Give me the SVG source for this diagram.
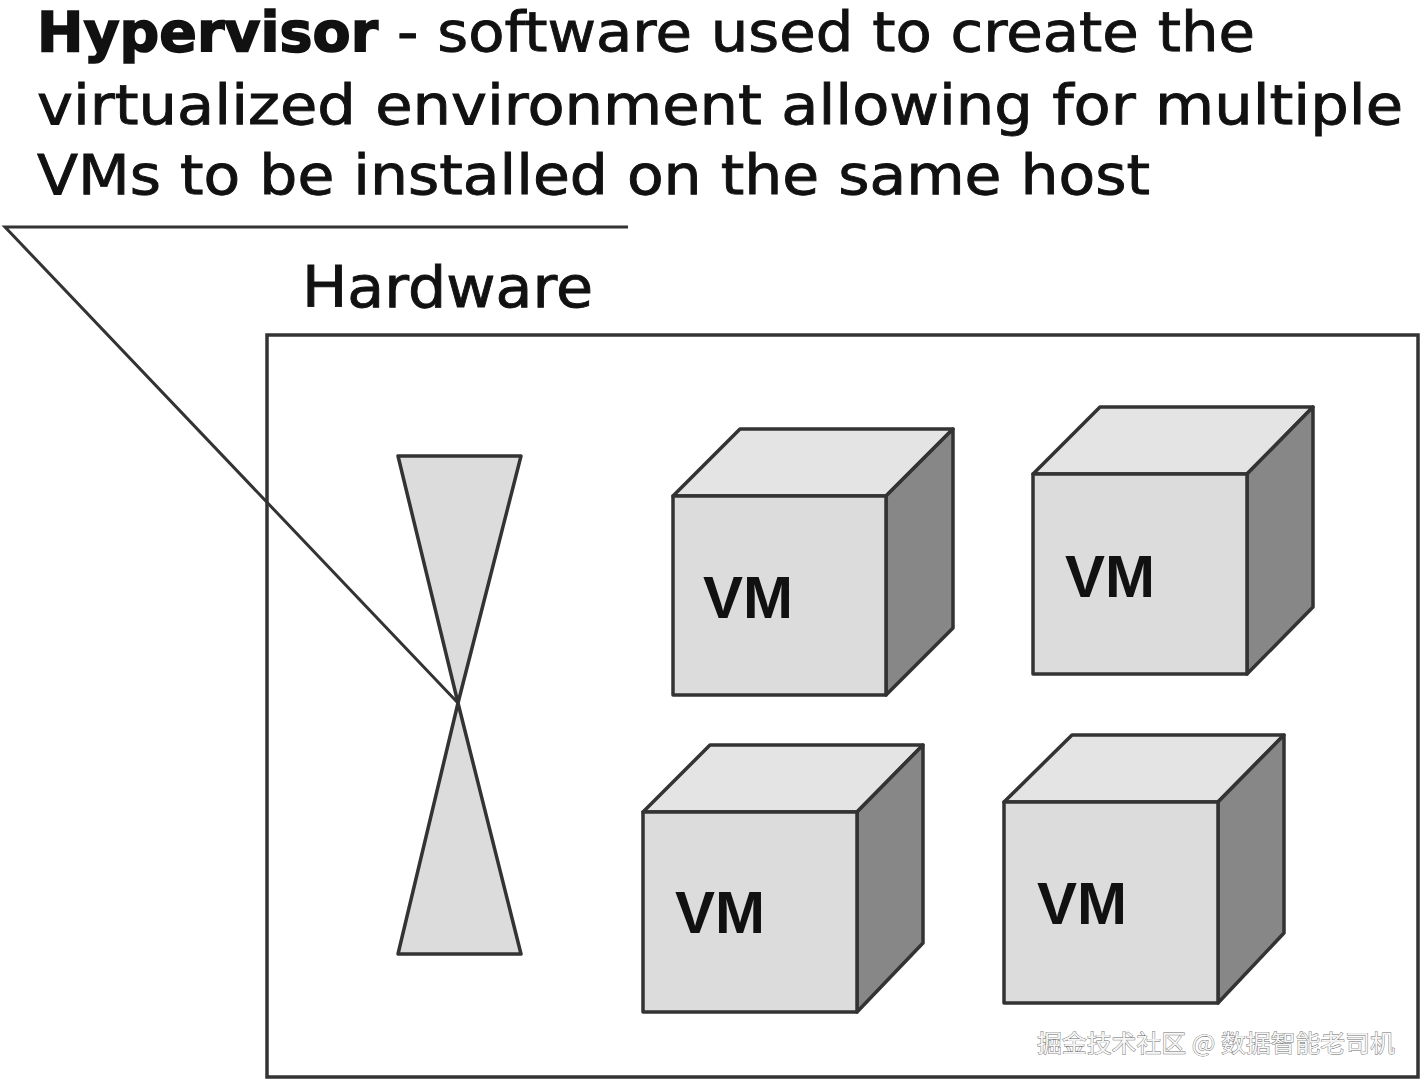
<svg xmlns="http://www.w3.org/2000/svg" width="1425" height="1084" viewBox="0 0 1425 1084">
  <defs>
    <style>
      .title { font-family: "DejaVu Sans", "Liberation Sans", sans-serif; font-size: 55px; fill: #111; stroke: #111; stroke-width: 0.9; }
      .bold { font-weight: bold; stroke-width: 1.6; }
      .hw { font-family: "DejaVu Sans", "Liberation Sans", sans-serif; font-size: 57px; fill: #111; stroke: #111; stroke-width: 0.9; }
      .vm { font-family: "Liberation Sans", Arial, sans-serif; font-weight: bold; font-size: 60px; fill: #111; }
      .edge { stroke: #333; stroke-width: 3.5; stroke-linejoin: round; }
      .front { fill: #dcdcdc; }
      .top { fill: #e4e4e4; }
      .side { fill: #878787; }
      .glass { fill: #dcdcdc; stroke: #333; stroke-width: 3.5; stroke-linejoin: round; }
      .line { stroke: #333; stroke-width: 3; fill: none; }
      .wm { font-family: "Noto Sans CJK SC", "DejaVu Sans", sans-serif; font-size: 24px; fill: #f6f6f6; stroke: #6a6a6a; stroke-width: 0.8; paint-order: stroke; }
    </style>
  </defs>
  <rect width="1425" height="1084" fill="#ffffff"/>

  <g id="title">
    <text class="title" y="51"><tspan class="bold" x="37" textLength="341" lengthAdjust="spacingAndGlyphs">Hypervisor</tspan><tspan x="397" textLength="858" lengthAdjust="spacingAndGlyphs">- software used to create the</tspan></text>
    <text class="title" x="37" y="124" textLength="1366" lengthAdjust="spacingAndGlyphs">virtualized environment allowing for multiple</text>
    <text class="title" x="37" y="194" textLength="1113" lengthAdjust="spacingAndGlyphs">VMs to be installed on the same host</text>
  </g>

  <g id="hardware">
    <text class="hw" x="302" y="307" textLength="291" lengthAdjust="spacingAndGlyphs">Hardware</text>
    <rect x="267" y="335" width="1151" height="742" fill="none" stroke="#333" stroke-width="3.5"/>
  </g>

  <g id="hypervisor">
    <polygon class="glass" points="398,456 521,456 458,703"/>
    <polygon class="glass" points="458,703 521,954 398,954"/>
  </g>

  <g id="vm1">
    <polygon class="top edge" points="673,496 740,429 953,429 886,496"/>
    <polygon class="side edge" points="886,496 953,429 953,628 886,695"/>
    <rect class="front edge" x="673" y="496" width="213" height="199"/>
    <text class="vm" x="703" y="618">VM</text>
  </g>

  <g id="vm2">
    <polygon class="top edge" points="1033,474 1100,407 1313,407 1247,474"/>
    <polygon class="side edge" points="1247,474 1313,407 1313,607 1247,674"/>
    <rect class="front edge" x="1033" y="474" width="214" height="200"/>
    <text class="vm" x="1065" y="597">VM</text>
  </g>

  <g id="vm3">
    <polygon class="top edge" points="643,812 710,745 923,745 857,812"/>
    <polygon class="side edge" points="857,812 923,745 923,943 857,1012"/>
    <rect class="front edge" x="643" y="812" width="214" height="200"/>
    <text class="vm" x="675" y="933">VM</text>
  </g>

  <g id="vm4">
    <polygon class="top edge" points="1004,802 1072,735 1284,735 1218,802"/>
    <polygon class="side edge" points="1218,802 1284,735 1284,933 1218,1003"/>
    <rect class="front edge" x="1004" y="802" width="214" height="201"/>
    <text class="vm" x="1037" y="924">VM</text>
  </g>

  <g id="connectors">
    <polyline class="line" points="628,227 5,227 458,703"/>
  </g>

  <g id="watermark">
    <text class="wm" x="1037" y="1052" textLength="358" lengthAdjust="spacingAndGlyphs">掘金技术社区 @ 数据智能老司机</text>
  </g>
</svg>
